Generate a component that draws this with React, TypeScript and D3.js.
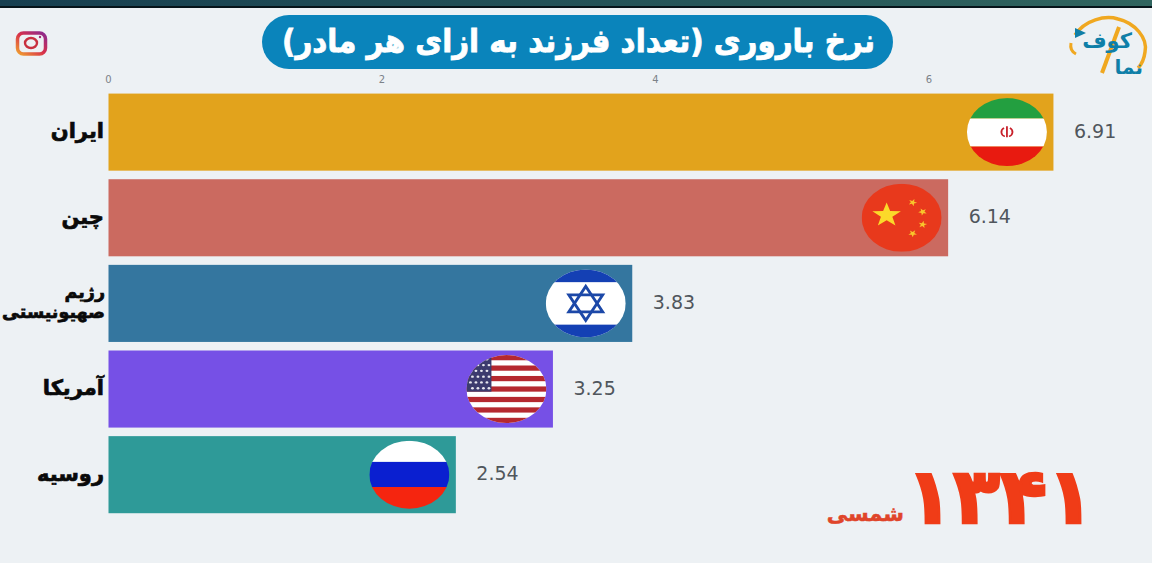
import React from "react";
import * as d3 from "d3";

const categories = ["ایران", "چین", "رژیم صهیونیستی", "آمریکا", "روسیه"];
const values = [6.91, 6.14, 3.83, 3.25, 2.54];
const barColors = ["#e2a31c", "#cb6a60", "#34769f", "#7650e6", "#2e9a98"];
const flagIds = ["ir", "cn", "il", "us", "ru"];
const axisTicks = [0, 2, 4, 6];
const labelLines = [["ایران"], ["چین"], ["رژیم", "صهیونیستی"], ["آمریکا"], ["روسیه"]];

const W = 1152, H = 563;
const x = d3.scaleLinear().domain([0, 6]).range([108.5, 929]);
const y = d3.scaleBand<number>().domain(d3.range(5)).range([89.3, 517.5]).paddingInner(0.1).paddingOuter(0.05);

const FA = "'DejaVu Sans', 'Noto Sans', sans-serif";
const R = 40;

function star(cx: number, cy: number, r: number, fill: string, rot = 0) {
  const pts = d3.range(10).map((i) => {
    const a = (i * Math.PI) / 5 - Math.PI / 2 + rot;
    const rr = i % 2 ? r * 0.4 : r;
    return [cx + rr * Math.cos(a), cy + rr * Math.sin(a)].join(",");
  });
  return <polygon points={pts.join(" ")} fill={fill} />;
}

function Flag({ id }: { id: string }) {
  const r = R;
  if (id === "ir")
    return (
      <g>
        <rect x={-r} y={-r} width={2 * r} height={24} fill="#239f40" />
        <rect x={-r} y={-16} width={2 * r} height={33} fill="#fff" />
        <rect x={-r} y={17} width={2 * r} height={24} fill="#e81a10" />
        <path d="M0,-7 V6 M-3,-5 C-7,-2 -6,4 -2,5 M3,-5 C7,-2 6,4 2,5" stroke="#c8202a" strokeWidth={1.8} fill="none" />
      </g>
    );
  if (id === "cn")
    return (
      <g>
        <rect x={-r} y={-r} width={2 * r} height={2 * r} fill="#e8391c" />
        {star(-15, -3, 15, "#fbd92a")}
        {star(11, -18, 4.5, "#f8c52c", 0.4)}
        {star(21, -7, 4.5, "#f8c52c", 0.8)}
        {star(21, 8, 4.5, "#f8c52c", 0.2)}
        {star(11, 18.5, 4.5, "#f8c52c", 0.6)}
      </g>
    );
  if (id === "il")
    return (
      <g>
        <rect x={-r} y={-r} width={2 * r} height={2 * r} fill="#fff" />
        <rect x={-r} y={-r} width={2 * r} height={15} fill="#1440b4" />
        <rect x={-r} y={25} width={2 * r} height={15} fill="#1440b4" />
        <polygon points="0,-20 17,10 -17,10" fill="none" stroke="#1c48a8" strokeWidth={3} />
        <polygon points="0,20 17,-10 -17,-10" fill="none" stroke="#1c48a8" strokeWidth={3} />
      </g>
    );
  if (id === "us") {
    const n = 13, sh = (2 * r) / n;
    return (
      <g>
        <rect x={-r} y={-r} width={2 * r} height={2 * r} fill="#fff" />
        {d3.range(0, n, 2).map((i) => (
          <rect key={i} x={-r} y={-r + i * sh} width={2 * r} height={sh} fill="#b5282f" />
        ))}
        <rect x={-r} y={-r} width={25} height={sh * 7} fill="#3c3b6e" />
        {d3.range(6).flatMap((row) =>
          d3.range(4).map((col) => (
            <circle key={`${row}-${col}`} cx={-r + 4 + col * 5.5 + (row % 2) * 2} cy={-r + 5 + row * 6.8} r={1.4} fill="#e8e8f0" />
          ))
        )}
      </g>
    );
  }
  return (
    <g>
      <rect x={-r} y={-r} width={2 * r} height={25} fill="#fff" />
      <rect x={-r} y={-15} width={2 * r} height={29.5} fill="#0a1fd0" />
      <rect x={-r} y={14.5} width={2 * r} height={26} fill="#f5250f" />
    </g>
  );
}

export default function App() {
  const bw = y.bandwidth();
  return (
    <svg width={W} height={H} viewBox={`0 0 ${W} ${H}`} style={{ position: "absolute", left: 0, top: 0, display: "block" }}>
      <defs>
        <linearGradient id="top" x1="0" x2="1" y1="0" y2="0">
          <stop offset="0" stopColor="#173f50" />
          <stop offset="1" stopColor="#30655f" />
        </linearGradient>
        <linearGradient id="ig" x1="0" x2="1" y1="1" y2="0">
          <stop offset="0" stopColor="#f0a030" />
          <stop offset="0.5" stopColor="#d8304a" />
          <stop offset="1" stopColor="#8a2a90" />
        </linearGradient>
        <clipPath id="flagClip"><circle r={R} /></clipPath>
      </defs>
      <rect width={W} height={H} fill="#edf1f4" />
      <rect width={W} height={6} fill="url(#top)" />
      <rect y={6} width={W} height={2} fill="#06141a" />

      {/* Title */}
      <rect x={262} y={15} width={631} height={54} rx={27} fill="#0a84bb" />
      <text x={578.5} y={52} textAnchor="middle" direction="rtl" textLength={593} lengthAdjust="spacingAndGlyphs"
        fontFamily={FA} fontWeight={700} fontSize={32} fill="#fff" stroke="#fff" strokeWidth={0.8}>
        نرخ باروری (تعداد فرزند به ازای هر مادر)
      </text>

      {/* Instagram */}
      <rect x={17.5} y={33} width={28} height={21} rx={6} fill="none" stroke="url(#ig)" strokeWidth={3.5} />
      <ellipse cx={31} cy={43} rx={6} ry={5} fill="none" stroke="#c8303f" strokeWidth={2.4} />
      <circle cx={40} cy={37} r={1.2} fill="#a02a70" />

      {/* Logo */}
      <path d="M1075,35 C1085,20 1105,15 1118,19 C1135,23 1148,38 1145,52 C1144,60 1141,65 1138,68" fill="none" stroke="#f0a820" strokeWidth={3.5} />
      <path d="M1119,27 L1102,73" fill="none" stroke="#f0a820" strokeWidth={4} />
      <path d="M1071,43 C1070,48 1072,52 1076,54" fill="none" stroke="#f0a820" strokeWidth={3} />
      <polygon points="1075,28 1086,33 1075,38" fill="#0f7fa8" />
      <text x={1132} y={48} textAnchor="end" fontFamily={FA} fontWeight={700} fontSize={21} fill="#0f7fa8">کوف</text>
      <text x={1143} y={74} textAnchor="end" fontFamily={FA} fontWeight={700} fontSize={20} fill="#0f7fa8">نما</text>

      {/* Axis */}
      {axisTicks.map((t) => (
        <text key={t} x={x(t)} y={83} textAnchor="middle" fontFamily="'DejaVu Sans', sans-serif" fontSize={10} fill="#7c8288">{t}</text>
      ))}

      {/* Bars */}
      {values.map((v, i) => {
        const by = y(i) as number;
        const xe = x(v);
        return (
          <g key={categories[i]}>
            <rect x={x(0)} y={by} width={xe - x(0)} height={bw} fill={barColors[i]} />
            <g transform={`translate(${xe - 46.5},${by + bw / 2}) scale(1,0.85)`}>
              <g clipPath="url(#flagClip)"><Flag id={flagIds[i]} /></g>
            </g>
            <text x={xe + 20.5} y={by + bw / 2 + 5.5} fontFamily="'DejaVu Sans', sans-serif" fontSize={19} fill="#50565c">{v.toFixed(2)}</text>
            {labelLines[i].map((ln, j) => {
              const two = labelLines[i].length > 1;
              return (
                <text key={j} x={two ? 105 : 104} y={by + bw / 2 + (two ? -5 + j * 20 : 6)} textAnchor="end"
                  fontFamily={FA} fontWeight={700} fontSize={two ? 17.5 : 21} fill="#0a0a0a" stroke="#0a0a0a" strokeWidth={0.7}>
                  {ln}
                </text>
              );
            })}
          </g>
        );
      })}

      {/* Year */}
      <text x={1094} y={523} textAnchor="end" fontFamily={FA} fontWeight={700} fontSize={77} fill="#f03c17" stroke="#f03c17" strokeWidth={2.5}>۱۳۴۱</text>
      <text x={904} y={521} textAnchor="end" fontFamily={FA} fontWeight={700} fontSize={21} fill="#e0452a" stroke="#e0452a" strokeWidth={0.5}>شمسی</text>
    </svg>
  );
}
